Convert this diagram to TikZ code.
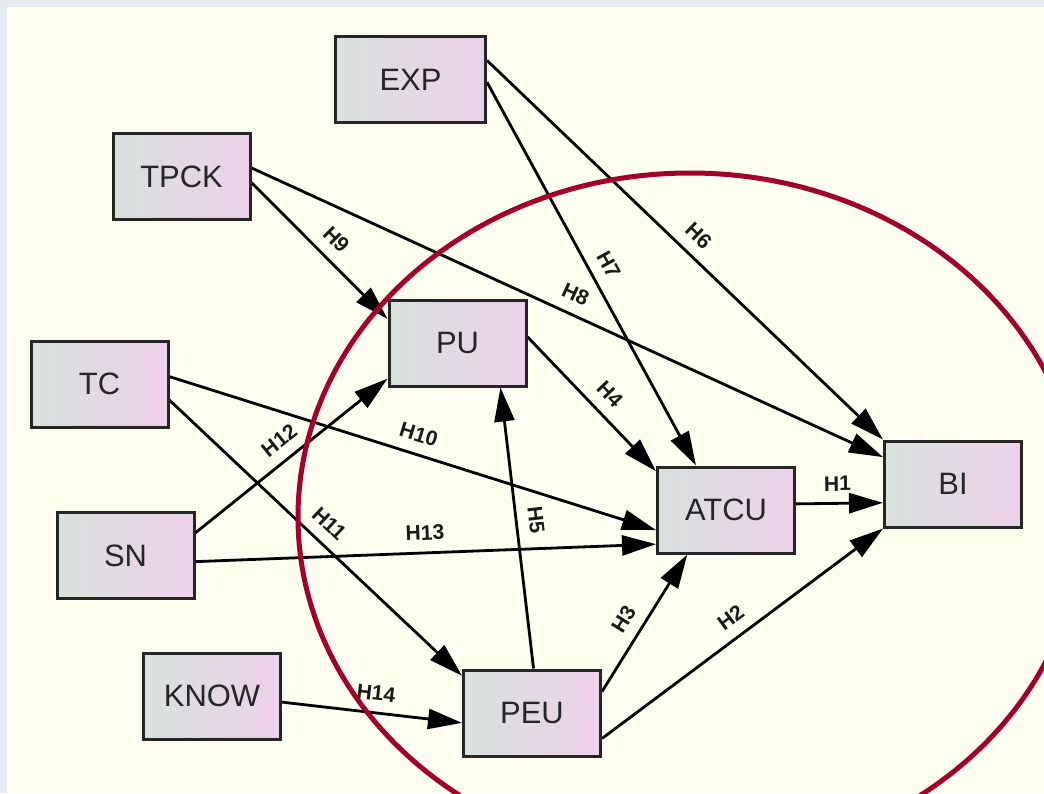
\documentclass[tikz,border=0pt]{standalone}
\usepackage{fontspec}
\setmainfont{Liberation Sans}
\usetikzlibrary{arrows.meta}
\definecolor{paper}{RGB}{253,254,240}
\definecolor{frame}{RGB}{228,233,240}
\definecolor{boxgrey}{RGB}{216,225,221}
\definecolor{boxpink}{RGB}{237,209,234}
\definecolor{ringred}{RGB}{162,0,40}
\pgfdeclarelayer{back}
\pgfdeclarelayer{bg}
\pgfsetlayers{back,bg,main}

\begin{document}
\begin{tikzpicture}[
        construct/.style={draw=black!85, line width=0.075cm, left color=boxgrey, right color=boxpink,
                minimum width=3.425cm, minimum height=2.15cm, inner sep=0pt,
                text=black!85, font=\fontsize{22}{26}\selectfont},
        hyp/.style={line width=0.07cm, -{Triangle[length=0.85cm,width=0.5cm]}},
        hlabel/.style={sloped, above=0.24cm, inner sep=1pt, text=black!90,
                font=\fontsize{15}{17}\selectfont\bfseries}]
        \begin{pgfonlayer}{back}
                \fill[frame] (0cm,0cm) rectangle (26.1cm,-19.825cm);
                \fill[paper] (0.175cm,-0.175cm) rectangle (26.1cm,-19.825cm);
        \end{pgfonlayer}
        \useasboundingbox (0cm,0cm) rectangle (26.1cm,-19.825cm);
        \node (exp) [construct, minimum width=3.75cm] at (10.262500cm, -1.987500cm) {EXP};
        \node (tpck) [construct] at (4.537500cm, -4.412500cm) {TPCK};
        \node (tc) [construct] at (2.487500cm, -9.600000cm) {TC};
        \node (sn) [construct] at (3.137500cm, -13.887500cm) {SN};
        \node (know) [construct] at (5.300000cm, -17.400000cm) {KNOW};
        \node (pu) [construct] at (11.437500cm, -8.575000cm) {PU};
        \node (atcu) [construct] at (18.150000cm, -12.750000cm) {ATCU};
        \node (bi) [construct] at (23.825000cm, -12.100000cm) {BI};
        \node (peu) [construct] at (13.300000cm, -17.825000cm) {PEU};
        \begin{pgfonlayer}{bg}
                \draw (atcu.5.8) edge [hyp] node [hlabel, pos=0.48] {H1} (bi.195.4);
                \draw (peu.-20.2) edge [hyp] node [hlabel] {H2} (bi.south west);
                \draw (peu.17.2) edge [hyp] node [hlabel, pos=0.45] {H3} (atcu.229.4);
                \draw (pu.5) edge [hyp] node [hlabel, pos=0.53] {H4} (atcu.151.2);
                \draw (peu.88.6) edge [hyp] node [hlabel, pos=0.52] {H5} (pu.-46);
                \draw (exp.14.5) edge [hyp] node [hlabel] {H6} (bi.north west);
                \draw (exp.-2.7) edge [hyp] node [hlabel] {H7} (atcu.124);
                \draw (tpck.7.1) edge [hyp] node [hlabel] {H8} (bi.159.4);
                \draw (tpck.-5.4) edge [hyp] node [hlabel, pos=0.52] {H9} (pu.161.4);
                \draw (tc.6.8) edge [hyp] node [hlabel] {H10} (atcu.196.2);
                \draw (tc.-13.3) edge [hyp] node [hlabel] {H11} (peu.152.8);
                \draw (sn.18.2) edge [hyp] node [hlabel] {H12} (pu.207.1);
                \draw (sn.-5.4) edge [hyp] node [hlabel] {H13} (atcu.206.9);
                \draw (know.-5.8) edge [hyp] node [hlabel, pos=0.51] {H14} (peu.188.4);
        \end{pgfonlayer}
        \begin{scope}
                \clip (0cm,0cm) rectangle (26.1cm,-19.825cm);
                \draw[ringred, line width=0.125cm] (17.25cm,-12.925cm) ellipse [x radius=9.8cm, y radius=8.6cm];
        \end{scope}
\end{tikzpicture}
\end{document}
